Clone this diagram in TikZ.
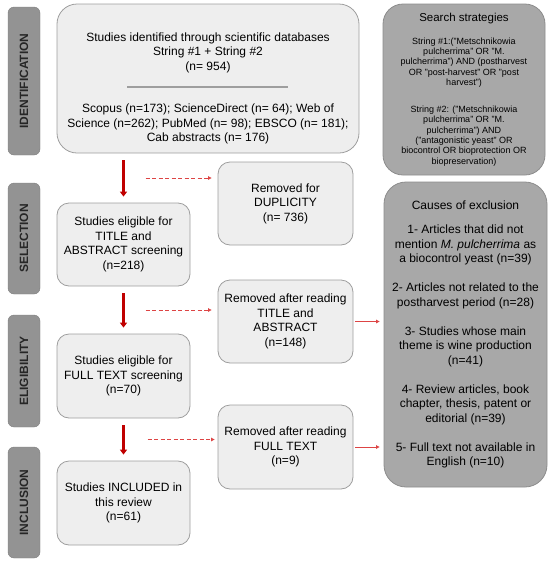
\documentclass[tikz,border=0pt]{standalone}
\usepackage{fontspec}
\setmainfont{Liberation Sans}
\usetikzlibrary{arrows.meta,calc}
\definecolor{boxfill}{HTML}{EEEEEE}
\definecolor{boxline}{HTML}{9E9E9E}
\definecolor{darkfill}{HTML}{A8A8A8}
\definecolor{darkline}{HTML}{8C8C8C}
\definecolor{phfill}{HTML}{939393}
\definecolor{phline}{HTML}{7E7E7E}
\definecolor{flowred}{HTML}{C00000}
\definecolor{dashred}{HTML}{DD4444}

\begin{document}
\begin{tikzpicture}
[x=1pt,y=-1pt
,txt/.style={align=center,inner sep=0pt,font=\fontsize{12}{14.5}\selectfont}
,bx/.style={txt,draw=boxline,fill=boxfill,rounded corners=12pt,line width=0.8pt}
,big/.style={bx,rounded corners=20pt}
,dbx/.style={bx,draw=darkline,fill=darkfill,rounded corners=20pt}
,ph/.style={draw=phline,fill=phfill,rounded corners=6pt,rotate=90,minimum height=32pt,inner sep=0pt,text=black!85,font=\bfseries\fontsize{12}{14}\selectfont}
,fl/.style={draw=flowred,line width=3pt,-{Triangle[width=7pt,length=5pt]},shorten <=7pt,shorten >=6pt}
,rm/.style={draw=dashred,line width=0.9pt,dash pattern=on 4pt off 2.5pt,-{Triangle[width=3.5pt,length=3.5pt]}}
,ex/.style={draw=dashred,line width=0.9pt,-{Triangle[width=3.5pt,length=3.5pt]},shorten <=2pt,shorten >=4pt}]
\useasboundingbox (0,0) rectangle (550,566);
% phase labels
\node[ph,minimum width=148pt] (pid) at (24,81) {IDENTIFICATION};
\node[ph,minimum width=111pt] (psel) at (24,238.5) {SELECTION};
\node[ph,minimum width=112pt] (pelig) at (24,371) {ELIGIBILITY};
\node[ph,minimum width=111pt] (pinc) at (24,502.5) {INCLUSION};
% identification
\node[big,minimum width=302pt,minimum height=149pt] (ident) at (208,78.5) {};
\node[txt] (identa) at (208,52.5) {Studies identified through scientific databases\\String \#1 + String \#2\\(n= 954)};
\node[txt] (identb) at (208,124) {Scopus (n=173); ScienceDirect (n= 64); Web of\\Science (n=262); PubMed (n= 98); EBSCO (n= 181);\\Cab abstracts (n= 176)};
\draw[boxline,line width=1.3pt] (127,87) -- (288,87);
\node[dbx,minimum width=162pt,minimum height=171pt,font=\fontsize{9}{10.3}\selectfont] (search) at (464,89.5)
  {{\fontsize{11.5}{13}\selectfont Search strategies}\\[12.7pt]
   String \#1:("Metschnikowia\\pulcherrima" OR "M.\\pulcherrima") AND (postharvest\\OR "post-harvest" OR "post\\harvest")\\[16.7pt]
   String \#2: ("Metschnikowia\\pulcherrima" OR "M.\\pulcherrima") AND\\("antagonistic yeast" OR\\biocontrol OR bioprotection OR\\biopreservation)};
% flow
\node[bx,minimum width=135pt,minimum height=83pt] (rm1) at (285.5,203.5) {Removed for\\DUPLICITY\\(n= 736)};
\node[bx,minimum width=133pt,minimum height=83pt] (sel) at (123.5,244.5) {Studies eligible for\\TITLE and\\ABSTRACT screening\\(n=218)};
\node[bx,minimum width=135pt,minimum height=83pt] (rm2) at (285.5,321.5) {Removed after reading\\TITLE and\\ABSTRACT\\(n=148)};
\node[bx,minimum width=133pt,minimum height=84pt] (elig) at (123.5,376) {Studies eligible for\\FULL TEXT screening\\(n=70)};
\node[bx,minimum width=135pt,minimum height=84pt] (rm3) at (285.5,447) {Removed after reading\\FULL TEXT\\(n=9)};
\node[bx,minimum width=133pt,minimum height=84pt] (incl) at (123.5,503) {Studies INCLUDED in\\this review\\(n=61)};
\node[dbx,minimum width=163pt,minimum height=305pt,rounded corners=22pt] (causes) at (465.5,334.5)
  {Causes of exclusion\\[9.5pt]
   1- Articles that did not\\mention \textit{M. pulcherrima} as\\a biocontrol yeast (n=39)\\[14.5pt]
   2- Articles not related to the\\postharvest period (n=28)\\[14.5pt]
   3- Studies whose main\\theme is wine production\\(n=41)\\[14.5pt]
   4- Review articles, book\\chapter, thesis, patent or\\editorial (n=39)\\[14.5pt]
   5- Full text not available in\\English (n=10)};
\draw[fl] (ident.south -| sel.north) -- (sel.north);
\draw[fl] (sel.south) -- (elig.north);
\draw[fl] (elig.south) -- (incl.north);
\coordinate (m1) at ($(ident.south -| sel.north)!0.5!(sel.north)$);
\coordinate (m2) at ($(sel.south)!0.5!(elig.north)$);
\coordinate (m3) at ($(elig.south)!0.5!(incl.north)$);
\draw[rm,shorten <=22pt,shorten >=6pt] (m1) -- (m1 -| rm1.west);
\draw[rm,shorten <=22pt,shorten >=6pt] (m2) -- (m2 -| rm2.west);
\draw[rm,shorten <=24pt,shorten >=3pt] (m3) -- (m3 -| rm3.west);
\draw[ex] (rm2.east) -- (rm2.east -| causes.west);
\draw[ex] (rm3.east) -- (rm3.east -| causes.west);
\end{tikzpicture}
\end{document}
